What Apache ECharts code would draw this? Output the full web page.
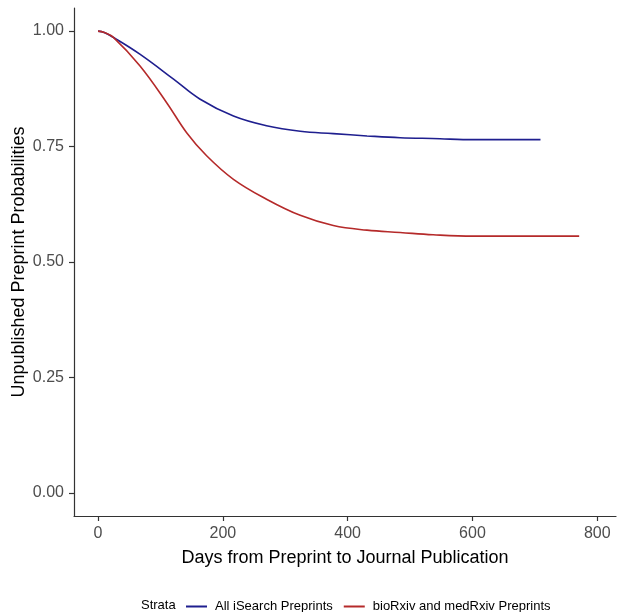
<!DOCTYPE html>
<html>
<head>
<meta charset="utf-8">
<script src="https://cdn.jsdelivr.net/npm/echarts@6/dist/echarts.min.js"></script>
<style>
  html, body { margin: 0; padding: 0; background: #fff; }
  #chart { width: 617px; height: 612px; }
</style>
</head>
<body>
<div id="chart"></div>
<script>
// All iSearch Preprints
const iSearchDays = [0, 10, 25, 67, 121, 163, 217, 270, 324, 377, 431, 484, 548, 585, 709]
const iSearchProb = [1.0, 0.997, 0.986, 0.950, 0.896, 0.853, 0.816, 0.795, 0.783, 0.778, 0.773, 0.769, 0.767, 0.765, 0.765]

// bioRxiv and medRxiv Preprints
const rxivDays = [0, 10, 25, 67, 110, 142, 174, 217, 270, 324, 377, 431, 484, 537, 601, 771]
const rxivProb = [1.0, 0.997, 0.986, 0.925, 0.845, 0.780, 0.730, 0.679, 0.636, 0.601, 0.579, 0.569, 0.564, 0.559, 0.556, 0.556]

const xTicks = [0, 200, 400, 600, 800]
const yTicks = [0, 0.25, 0.5, 0.75, 1]

const pairs = (xs, ys) => xs.map((x, i) => [x, ys[i]])

const chart = echarts.init(document.getElementById('chart'))

const axisCommon = {
  axisLine: { show: true, onZero: false, lineStyle: { color: '#333', width: 1.2 } },
  axisTick: { show: true, length: 5, lineStyle: { color: '#333', width: 1.2 } },
  splitLine: { show: false },
  nameMoveOverlap: false,
  nameTextStyle: { color: '#000', fontSize: 18, fontFamily: 'Liberation Sans' }
}

chart.setOption({
  animation: false,
  backgroundColor: '#fff',
  title: {
    text: 'Strata',
    left: 136,
    top: 594,
    textStyle: { fontSize: 13, fontWeight: 'normal', color: '#000', fontFamily: 'Liberation Sans' }
  },
  legend: {
    left: 181,
    top: 595,
    icon: 'rect',
    itemWidth: 21,
    itemHeight: 2,
    itemGap: 11,
    textStyle: { fontSize: 13, color: '#000', fontFamily: 'Liberation Sans', padding: [0, 0, 0, 3] },
    data: ['All iSearch Preprints', 'bioRxiv and medRxiv Preprints']
  },
  grid: { left: 74, right: 1, top: 8, bottom: 96, outerBoundsMode: 'none' },
  xAxis: {
    ...axisCommon,
    type: 'value',
    min: -38.5,
    max: 830,
    name: 'Days from Preprint to Journal Publication',
    nameLocation: 'middle',
    nameGap: 33,
    axisLabel: {
      customValues: xTicks,
      color: '#4d4d4d',
      fontSize: 16,
      margin: 10,
      fontFamily: 'Liberation Sans'
    },
    axisTick: { ...axisCommon.axisTick, customValues: xTicks }
  },
  yAxis: {
    ...axisCommon,
    type: 'value',
    min: -0.05,
    max: 1.05,
    name: 'Unpublished Preprint Probabilities',
    nameLocation: 'middle',
    nameGap: 46,
    axisLabel: {
      customValues: yTicks,
      color: '#4d4d4d',
      fontSize: 16,
      margin: 10,
      fontFamily: 'Liberation Sans',
      formatter: v => v.toFixed(2)
    },
    axisTick: { ...axisCommon.axisTick, customValues: yTicks }
  },
  series: [
    {
      name: 'All iSearch Preprints',
      type: 'line',
      data: pairs(iSearchDays, iSearchProb),
      smooth: 0.4,
      showSymbol: false,
      color: '#1f1f8f',
      lineStyle: { width: 1.6, color: '#1f1f8f' }
    },
    {
      name: 'bioRxiv and medRxiv Preprints',
      type: 'line',
      data: pairs(rxivDays, rxivProb),
      smooth: 0.4,
      showSymbol: false,
      color: '#b52a2a',
      lineStyle: { width: 1.6, color: '#b52a2a' }
    }
  ]
})
</script>
</body>
</html>
